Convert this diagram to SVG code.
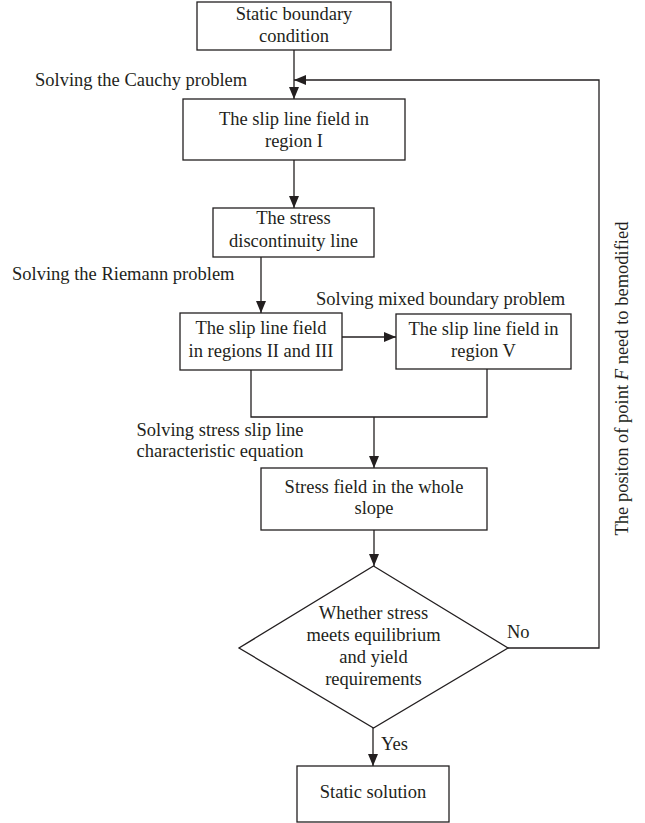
<svg xmlns="http://www.w3.org/2000/svg" width="645" height="823" viewBox="0 0 645 823">
<style>
.box{fill:#fff;stroke:#231f20;stroke-width:1.3}
.ln{fill:none;stroke:#231f20;stroke-width:1.3}
text{font-family:"Liberation Serif","Times New Roman",serif;font-size:18.5px;fill:#231f20}
.c{text-anchor:middle}
</style>
<defs>
<marker id="ah" viewBox="0 0 12 10" refX="12" refY="5" markerWidth="12" markerHeight="10" markerUnits="userSpaceOnUse" orient="auto">
<path d="M0,0 L12,5 L0,10 Z" fill="#231f20"/>
</marker>
</defs>
<rect width="645" height="823" fill="#fff"/>
<g id="connectors">
<line class="ln" x1="294" y1="50" x2="294" y2="99" marker-end="url(#ah)"/>
<line class="ln" x1="294" y1="160" x2="294" y2="208" marker-end="url(#ah)"/>
<line class="ln" x1="261" y1="257" x2="261" y2="313" marker-end="url(#ah)"/>
<line class="ln" x1="342" y1="337" x2="396" y2="337" marker-end="url(#ah)"/>
<polyline class="ln" points="251,370 251,417 487,417 487,369"/>
<line class="ln" x1="374" y1="417" x2="374" y2="468" marker-end="url(#ah)"/>
<line class="ln" x1="374" y1="530" x2="374" y2="566" marker-end="url(#ah)"/>
<line class="ln" x1="373" y1="728" x2="373" y2="766" marker-end="url(#ah)"/>
<polyline class="ln" points="508,648 599,648 599,80 294,80" marker-end="url(#ah)"/>
<text x="35" y="86">Solving the Cauchy problem</text>
<text x="12" y="280">Solving the Riemann problem</text>
<text x="316" y="305">Solving mixed boundary problem</text>
<text class="c" x="220" y="436">Solving stress slip line</text>
<text class="c" x="220" y="457">characteristic equation</text>
<text x="507" y="638">No</text>
<text x="381" y="750">Yes</text>
<text transform="translate(628,378.5) rotate(-90)" class="c">The positon of point <tspan font-style="italic">F</tspan> need to bemodified</text>
</g>
<g id="n1">
<rect class="box" x="197" y="2" width="194" height="48"/>
<text class="c" x="294" y="20">Static boundary</text>
<text class="c" x="294" y="42">condition</text>
</g>
<g id="n2">
<rect class="box" x="183" y="99" width="222" height="61"/>
<text class="c" x="294" y="125">The slip line field in</text>
<text class="c" x="294" y="147">region I</text>
</g>
<g id="n3">
<rect class="box" x="213" y="208" width="161" height="49"/>
<text class="c" x="293.5" y="224">The stress</text>
<text class="c" x="293.5" y="247">discontinuity line</text>
</g>
<g id="n4">
<rect class="box" x="180" y="313" width="162" height="57"/>
<text class="c" x="261" y="334">The slip line field</text>
<text class="c" x="261" y="357">in regions II and III</text>
</g>
<g id="n5">
<rect class="box" x="396" y="314" width="175" height="55"/>
<text class="c" x="483.5" y="335">The slip line field in</text>
<text class="c" x="483.5" y="357">region V</text>
</g>
<g id="n6">
<rect class="box" x="261" y="468" width="226" height="62"/>
<text class="c" x="374" y="493">Stress field in the whole</text>
<text class="c" x="374" y="514">slope</text>
</g>
<g id="n7">
<polygon class="box" points="373.5,566 508,648 373.5,728 239,648"/>
<text class="c" x="373.5" y="619">Whether stress</text>
<text class="c" x="373.5" y="641">meets equilibrium</text>
<text class="c" x="373.5" y="663">and yield</text>
<text class="c" x="373.5" y="685">requirements</text>
</g>
<g id="n8">
<rect class="box" x="297" y="766" width="152" height="56"/>
<text class="c" x="373" y="798">Static solution</text>
</g>
</svg>
